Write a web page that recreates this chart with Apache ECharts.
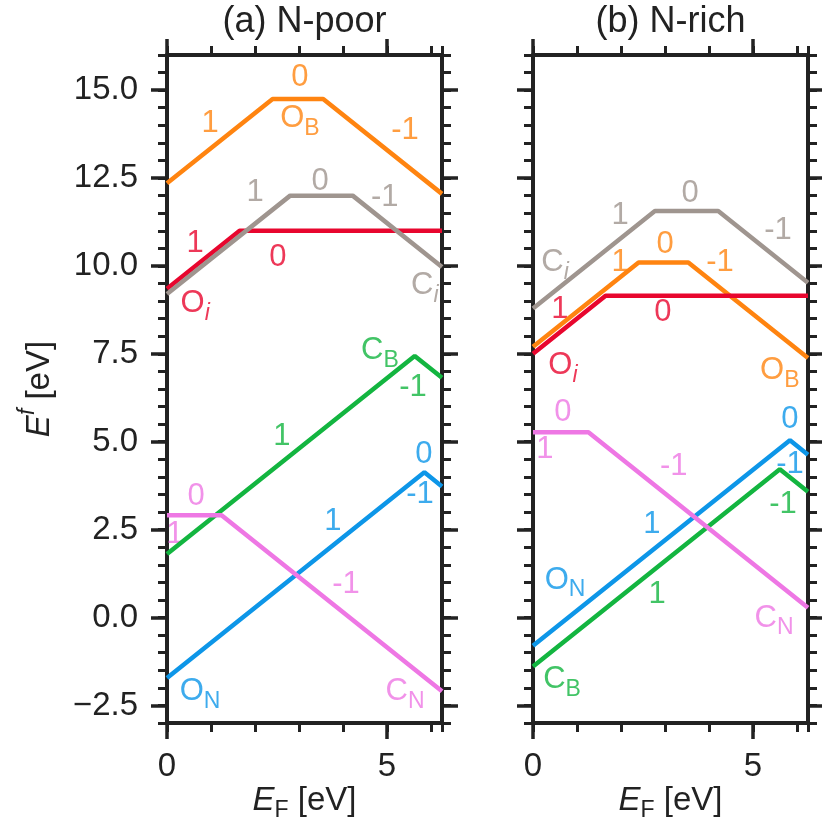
<!DOCTYPE html>
<html>
<head>
<meta charset="utf-8">
<script src="https://cdn.jsdelivr.net/npm/echarts@6/dist/echarts.min.js"></script>
<style>html,body{margin:0;padding:0;background:#fff}#c{width:822px;height:830px}</style>
</head>
<body>
<div id="c"></div>
<script>
// ---- axis ranges / ticks ----
const xRange = [0, 6.25];
const yRange = [-3, 16];
const xMajorTicks = [0, 5];
const yMajorTicks = [-2.5, 0, 2.5, 5, 7.5, 10, 12.5, 15];
const panelTitles = ['(a) N-poor', '(b) N-rich'];

// ---- formation-energy lines, [E_F, E^f] breakpoints ----
// (a) N-poor
const poorOB = [[0, 12.35], [2.4, 14.75], [3.55, 14.75], [6.25, 12.05]];
const poorOi = [[0, 9.35], [1.65, 11.0], [6.25, 11.0]];
const poorCi = [[0, 9.2], [2.8, 12.0], [4.22, 12.0], [6.25, 9.97]];
const poorON = [[0, -1.72], [5.85, 4.13], [6.25, 3.73]];
const poorCB = [[0, 1.81], [5.63, 7.44], [6.25, 6.82]];
const poorCN = [[0, 2.91], [1.24, 2.91], [6.25, -2.1]];
// (b) N-rich
const richOB = [[0, 7.7], [2.4, 10.1], [3.53, 10.1], [6.25, 7.38]];
const richOi = [[0, 7.5], [1.65, 9.15], [6.25, 9.15]];
const richCi = [[0, 8.79], [2.77, 11.56], [4.21, 11.56], [6.25, 9.52]];
const richON = [[0, -0.8], [5.84, 5.04], [6.25, 4.63]];
const richCB = [[0, -1.39], [5.61, 4.22], [6.25, 3.58]];
const richCN = [[0, 5.27], [1.26, 5.27], [6.25, 0.28]];

// ---- annotations: [E_F, E^f, text, defect] ----
const poorLabels = [
  [3.02, 15.35, '0', 'OB'], [0.98, 14.06, '1', 'OB'], [3.02, 14.1, 'O_B', 'OB'], [5.41, 13.86, '-1', 'OB'],
  [2.0, 12.1, '1', 'Ci'], [3.48, 12.4, '0', 'Ci'], [4.95, 11.96, '-1', 'Ci'], [5.86, 9.35, 'C_i', 'Ci'],
  [0.64, 10.65, '1', 'Oi'], [2.52, 10.23, '0', 'Oi'], [0.64, 8.85, 'O_i', 'Oi'],
  [4.84, 7.5, 'C_B', 'CB'], [5.59, 6.53, '-1', 'CB'], [2.61, 5.14, '1', 'CB'],
  [5.84, 4.63, '0', 'ON'], [5.75, 3.49, '-1', 'ON'], [3.77, 2.73, '1', 'ON'], [0.75, -2.2, 'O_N', 'ON'],
  [0.66, 3.44, '0', 'CN'], [0.18, 2.36, '1', 'CN'], [4.07, 0.94, '-1', 'CN'], [5.41, -2.2, 'C_N', 'CN']
];
const richLabels = [
  [0.5, 10.0, 'C_i', 'Ci'], [1.98, 11.45, '1', 'Ci'], [3.57, 12.07, '0', 'Ci'], [5.57, 11.02, '-1', 'Ci'],
  [1.98, 10.11, '1', 'OB'], [3.0, 10.6, '0', 'OB'], [4.25, 10.11, '-1', 'OB'], [5.61, 6.95, 'O_B', 'OB'],
  [0.61, 8.75, '1', 'Oi'], [2.95, 8.69, '0', 'Oi'], [0.68, 7.09, 'O_i', 'Oi'],
  [0.68, 5.82, '0', 'CN'], [0.27, 4.77, '1', 'CN'], [3.2, 4.29, '-1', 'CN'], [5.48, -0.1, 'C_N', 'CN'],
  [5.84, 5.63, '0', 'ON'], [5.84, 4.35, '-1', 'ON'], [2.7, 2.64, '1', 'ON'], [0.73, 0.98, 'O_N', 'ON'],
  [5.68, 3.21, '-1', 'CB'], [2.82, 0.65, '1', 'CB'], [0.66, -1.86, 'C_B', 'CB']
];

const colors = { OB: '#ff8410', Oi: '#e8062e', Ci: '#9f958f', ON: '#0d96e8', CB: '#13b540', CN: '#ee77e4' };
const FONT = '"Liberation Sans", Arial, Helvetica, sans-serif';
const AX = '#222';

const grids = [
  { left: 167, top: 55, width: 275, height: 668 },
  { left: 533, top: 55, width: 275, height: 668 }
];

const subRich = {
  m: { fontSize: 31, lineHeight: 34, verticalAlign: 'top', fontFamily: FONT },
  s: { fontSize: 23, lineHeight: 37, verticalAlign: 'bottom', fontFamily: FONT },
  si: { fontSize: 23, lineHeight: 37, verticalAlign: 'bottom', fontStyle: 'italic', fontFamily: FONT }
};
function toRich(t) {
  if (t.indexOf('_') < 0) return t;
  const [a, b] = t.split('_');
  return '{m|' + a + '}{' + (b === 'i' ? 'si' : 's') + '|' + b + '}';
}

const xAxes = [], yAxes = [];
grids.forEach((g, gi) => {
  const base = { gridIndex: gi, type: 'value', min: xRange[0], max: xRange[1], splitLine: { show: false } };
  const lineOn = { show: true, onZero: false, lineStyle: { color: AX, width: 4 } };
  const lineOff = { show: false, onZero: false };
  ['bottom', 'top'].forEach(pos => {
    xAxes.push(Object.assign({}, base, {
      position: pos, interval: 1, axisLine: lineOn,
      axisTick: { show: true, inside: false, length: 9, lineStyle: { color: AX, width: 3 } },
      axisLabel: { show: false }
    }));
    xAxes.push(Object.assign({}, base, {
      position: pos, axisLine: lineOff,
      axisTick: { show: true, inside: false, length: 16, customValues: xMajorTicks, lineStyle: { color: AX, width: 3.5 } },
      axisLabel: pos === 'bottom'
        ? { show: true, customValues: xMajorTicks, margin: 27, fontSize: 33, color: AX, fontFamily: FONT }
        : { show: false }
    }));
  });
  const ybase = { gridIndex: gi, type: 'value', min: yRange[0], max: yRange[1], splitLine: { show: false } };
  ['left', 'right'].forEach(pos => {
    yAxes.push(Object.assign({}, ybase, {
      position: pos, interval: 0.5, axisLine: lineOn,
      axisTick: { show: true, inside: false, length: 9, lineStyle: { color: AX, width: 3 } },
      axisLabel: { show: false }
    }));
    yAxes.push(Object.assign({}, ybase, {
      position: pos, axisLine: lineOff,
      axisTick: { show: true, inside: false, length: 16, customValues: yMajorTicks, lineStyle: { color: AX, width: 3.5 } },
      axisLabel: (pos === 'left' && gi === 0)
        ? { show: true, customValues: yMajorTicks, margin: 29, fontSize: 33, color: AX, fontFamily: FONT,
            formatter: v => (v < 0 ? '\u2212' + Math.abs(v).toFixed(1) : v.toFixed(1)) }
        : { show: false }
    }));
  });
});

const panels = [
  { lines: { OB: poorOB, Oi: poorOi, ON: poorON, CB: poorCB, Ci: poorCi, CN: poorCN }, labels: poorLabels },
  { lines: { OB: richOB, Oi: richOi, ON: richON, CB: richCB, Ci: richCi, CN: richCN }, labels: richLabels }
];
const series = [];
panels.forEach((p, gi) => {
  Object.keys(p.lines).forEach(k => {
    series.push({
      type: 'line', xAxisIndex: gi * 4, yAxisIndex: gi * 4, data: p.lines[k],
      symbol: 'none', silent: true, clip: true,
      lineStyle: { color: colors[k], width: 4.5 }, itemStyle: { color: colors[k] },
      emphasis: { disabled: true }
    });
  });
  series.push({
    type: 'scatter', xAxisIndex: gi * 4, yAxisIndex: gi * 4, symbolSize: 0, silent: true,
    emphasis: { disabled: true },
    data: p.labels.map(l => ({ value: [l[0], l[1]], name: l[2], label: { color: colors[l[3]] } })),
    label: { show: true, position: 'inside', fontSize: 31, fontFamily: FONT, formatter: q => toRich(q.name), rich: subRich }
  });
});

const graphic = [];
grids.forEach((g, gi) => {
  const cx = g.left + g.width / 2;
  graphic.push({ type: 'text', x: cx, y: 22, silent: true,
    style: { text: panelTitles[gi], fill: AX, font: '36px ' + FONT, align: 'center', verticalAlign: 'middle', textAlign: 'center', textVerticalAlign: 'middle' } });
  graphic.push({ type: 'text', x: cx, y: 803, silent: true,
    style: { text: '{i|E}{s|F}{n| [eV]}', fill: AX, align: 'center', verticalAlign: 'middle', textAlign: 'center', textVerticalAlign: 'middle',
      rich: {
        i: { fontSize: 33, fontStyle: 'italic', lineHeight: 36, verticalAlign: 'top', fontFamily: FONT, fill: AX },
        s: { fontSize: 23, lineHeight: 38, verticalAlign: 'bottom', fontFamily: FONT, fill: AX },
        n: { fontSize: 33, lineHeight: 36, verticalAlign: 'top', fontFamily: FONT, fill: AX }
      } } });
});
graphic.push({ type: 'text', x: 36, y: 389, rotation: Math.PI / 2, silent: true,
  style: { text: '{i|E}{p|f}{n| [eV]}', fill: AX, align: 'center', verticalAlign: 'middle', textAlign: 'center', textVerticalAlign: 'middle',
    rich: {
      i: { fontSize: 33, fontStyle: 'italic', lineHeight: 40, verticalAlign: 'bottom', fontFamily: FONT, fill: AX },
      p: { fontSize: 23, fontStyle: 'italic', lineHeight: 30, verticalAlign: 'top', fontFamily: FONT, fill: AX },
      n: { fontSize: 33, lineHeight: 40, verticalAlign: 'bottom', fontFamily: FONT, fill: AX }
    } } });

const chart = echarts.init(document.getElementById('c'), null, { renderer: 'canvas' });
chart.setOption({
  animation: false,
  backgroundColor: '#fff',
  grid: grids,
  xAxis: xAxes,
  yAxis: yAxes,
  series: series,
  graphic: graphic
});
</script>
</body>
</html>
